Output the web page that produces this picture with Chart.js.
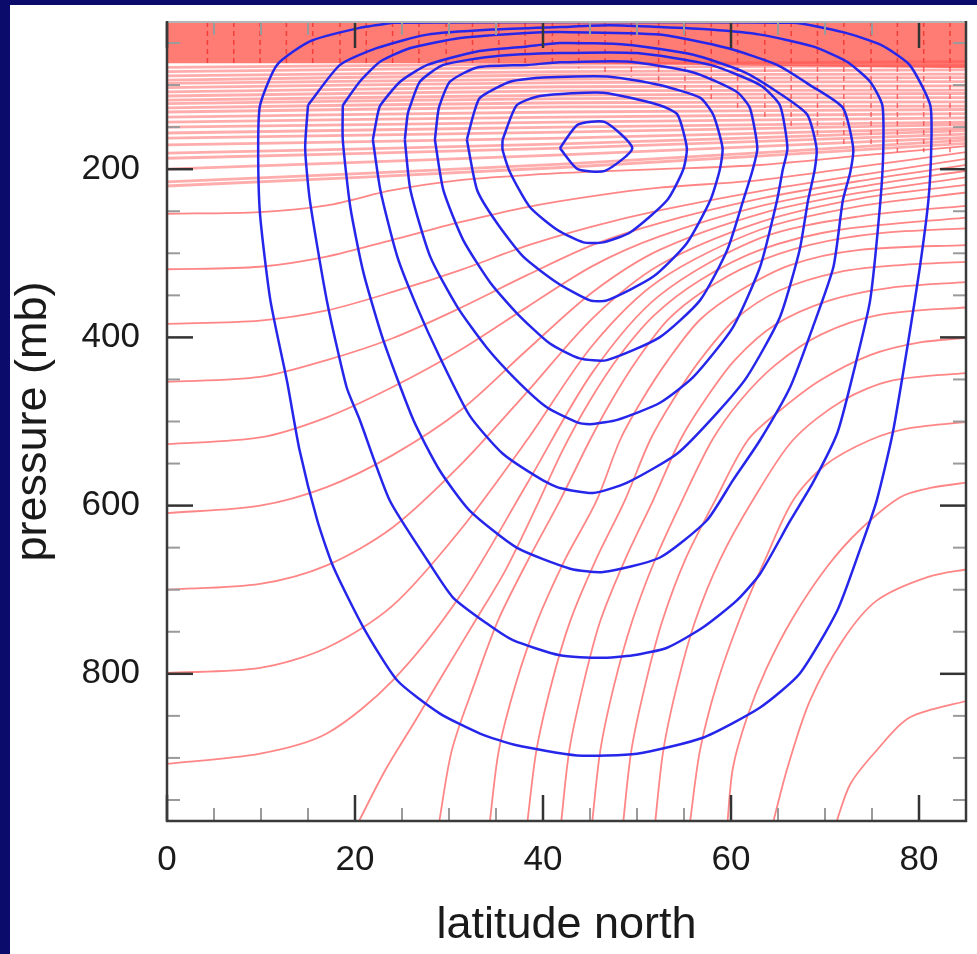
<!DOCTYPE html>
<html>
<head>
<meta charset="utf-8">
<script src="https://cdn.jsdelivr.net/npm/chart.js@4.4.1/dist/chart.umd.min.js"></script>
<style>
  html, body { margin: 0; padding: 0; background: #0b0b6b; }
  #wrap { width: 977px; height: 954px; }
</style>
</head>
<body>
<div id="wrap"><canvas id="chart" width="977" height="954"></canvas></div>
<script>
// axes
const latRange = [0, 85];
const presRange = [25, 975];
const xMajorTicks = [0, 20, 40, 60, 80];
const xMinorTicks = [5, 10, 15, 25, 30, 35, 45, 50, 55, 65, 70, 75];
const yMajorTicks = [200, 400, 600, 800];
const yMinorTicks = [50, 100, 150, 250, 300, 350, 450, 500, 550, 650, 700, 750, 850, 900, 950];

// zonal wind contours (blue), [latitude, pressure]
const windC1 = [[24.0,26],[20.5,32],[15.2,48],[11.7,76],[9.9,124],[9.7,175],[9.9,254],[11.0,356],[12.8,454],[14.1,534],[16.0,618],[17.7,673],[20.9,745],[24.5,808],[29.0,847],[33.3,871],[37.2,885],[43.6,897],[50.0,895],[57.0,876],[63.1,840],[67.3,800],[71.3,725],[73.7,653],[75.5,594],[77.2,514],[79.0,395],[80.1,316],[81.0,237],[81.3,175],[81.2,124],[79.0,76],[75.9,52],[71.9,37],[66.6,26],[45.0,25],[24.0,26]];
const windC2 = [[15.0,124],[18.4,76],[22.3,56],[27.7,40],[34.7,34],[41.8,31],[47.1,29],[52.4,31],[57.8,34],[63.1,40],[68.7,54],[72.3,72],[74.8,96],[76.1,124],[76.2,177],[75.9,237],[74.8,356],[73.0,443],[71.3,514],[68.7,573],[66.3,618],[63.1,681],[60.6,713],[57.0,745],[53.2,769],[49.6,778],[46.1,781],[41.8,778],[36.8,760],[34.0,740],[30.4,709],[27.7,665],[23.7,594],[20.5,498],[19.1,459],[17.0,356],[15.2,237],[14.7,175],[15.0,124]];
const windC3 = [[18.7,124],[20.5,96],[22.7,72],[25.9,56],[31.2,44],[38.3,38],[41.8,37],[52.4,40],[59.6,56],[64.9,76],[68.4,100],[71.9,127],[73.0,175],[72.7,203],[71.9,237],[70.9,316],[68.7,388],[66.3,459],[63.1,522],[60.2,570],[57.4,618],[52.4,662],[46.4,679],[42.9,675],[37.2,650],[32.2,606],[29.0,558],[26.2,498],[23.0,403],[20.9,323],[19.5,245],[18.7,165],[18.7,124]];
const windC4 = [[21.9,165],[22.4,135],[22.7,124],[24.8,96],[27.7,76],[33.0,60],[38.3,54],[41.8,50],[48.9,52],[56.0,64],[61.3,84],[64.9,108],[68.1,135],[69.1,175],[68.9,201],[68.2,237],[67.3,296],[65.2,376],[61.7,447],[58.5,490],[54.3,538],[48.9,573],[45.3,585],[41.8,579],[40.0,570],[35.7,538],[32.2,493],[29.0,423],[26.6,364],[24.5,304],[22.7,225],[21.9,165]];
const windC5 = [[25.3,165],[25.6,135],[25.9,124],[26.9,96],[29.4,76],[34.7,66],[41.8,62],[50.0,62],[57.8,76],[63.1,100],[65.2,124],[66.0,175],[65.5,201],[64.9,237],[63.1,316],[60.2,388],[56.0,447],[52.4,478],[47.9,498],[45.3,503],[43.9,502],[40.4,483],[37.2,451],[34.0,412],[30.9,364],[28.0,304],[25.9,225],[25.3,165]];
const windC6 = [[28.5,165],[28.8,135],[29.0,124],[30.1,96],[33.0,79],[38.3,76],[41.8,73],[48.9,72],[56.0,85],[60.6,108],[62.0,127],[62.8,175],[62.3,201],[61.3,237],[59.6,296],[56.7,356],[52.4,400],[46.8,427],[43.9,425],[40.7,407],[37.2,371],[34.4,335],[31.5,284],[29.4,225],[28.5,165]];
const windC7 = [[31.9,165],[32.6,135],[33.3,115],[36.5,96],[40.0,91],[47.1,90],[52.4,100],[56.7,115],[58.1,135],[59.1,175],[58.8,201],[57.8,237],[55.3,288],[51.7,328],[46.8,356],[45.0,356],[41.5,335],[37.9,304],[35.1,264],[33.0,225],[31.9,165]];
const windC8 = [[35.7,165],[37.2,124],[39.7,113],[46.4,109],[52.4,124],[54.3,135],[55.3,175],[54.9,201],[53.2,237],[49.3,275],[46.4,287],[44.3,287],[41.5,272],[38.6,245],[36.5,204],[35.7,177],[35.7,165]];
const windC9 = [[41.8,175],[43.7,147],[46.6,144],[49.5,175],[46.6,202],[43.7,200],[41.8,175]];

// isentropes rising from the ground (red), [latitude, pressure]
const isoR1 = [[71.1,980],[72.7,931],[75.5,891],[79.0,852],[85.5,831]];
const isoR2 = [[64.4,980],[66.0,912],[68.4,832],[71.9,760],[75.5,713],[80.9,685],[85.5,675]];
const isoR3 = [[59.6,980],[60.2,912],[61.7,852],[63.8,793],[66.6,733],[70.2,673],[73.7,629],[78.0,590],[81.2,579],[85.5,572]];
const isoR4 = [[55.6,980],[56.7,891],[58.5,812],[61.0,733],[63.6,665],[66.6,594],[70.0,552],[74.8,522],[79.0,508],[85.5,500]];
const isoR5 = [[51.9,980],[52.8,891],[54.3,812],[56.2,737],[58.8,665],[62.3,594],[66.6,522],[71.9,475],[77.2,451],[85.5,442]];
const isoR6 = [[48.5,980],[49.4,891],[50.9,812],[52.7,737],[55.1,665],[58.3,594],[61.8,522],[65.2,487],[69.5,451],[74.8,421],[80.1,406],[85.5,400]];
const isoR7 = [[45.2,980],[46.1,891],[47.6,812],[49.5,737],[51.9,665],[54.8,594],[58.0,522],[61.0,475],[64.7,433],[69.5,397],[75.9,373],[85.5,364]];
const isoR8 = [[41.9,980],[42.8,891],[44.3,812],[46.1,737],[48.7,665],[51.7,594],[54.6,522],[57.2,475],[60.4,427],[64.7,385],[70.5,356],[76.9,341],[85.5,334]];
const isoR9 = [[38.3,980],[39.3,891],[40.9,812],[42.9,737],[45.6,665],[48.7,594],[51.4,522],[53.8,475],[56.7,427],[60.4,379],[65.2,344],[71.6,322],[78.0,314],[85.5,310]];
const isoR10 = [[34.3,980],[35.3,891],[37.1,812],[39.4,737],[42.3,665],[45.7,594],[48.2,522],[50.5,475],[53.3,427],[56.7,379],[61.0,344],[66.3,314],[73.7,296],[85.5,290]];
const isoR11 = [[28.9,980],[30.3,891],[32.7,812],[35.2,737],[38.4,665],[41.8,594],[45.0,522],[47.3,475],[50.0,427],[53.3,379],[57.2,344],[62.0,314],[68.4,290],[75.9,276],[85.5,270]];
const isoR12 = [[20.2,980],[23.2,915],[26.4,856],[29.6,796],[32.8,737],[36.0,677],[39.1,606],[42.1,534],[45.0,475],[48.2,421],[51.9,373],[56.7,332],[63.1,296],[71.6,272],[85.5,257]];

// isentropes leaving the equator (red), pressures at aLats
const aLats = [0, 9.9, 17.0, 24.0, 31.2, 38.3, 45.3, 52.4, 63.1, 73.7, 85.5];
const isoA1 = [253, 251, 243, 225, 213, 207, 203, 200, 195, 184, 172];
const isoA2 = [319, 316, 304, 284, 263, 245, 232, 222, 213, 197, 179];
const isoA3 = [384, 380, 368, 346, 320, 291, 268, 249, 226, 207, 187];
const isoA4 = [453, 447, 427, 401, 365, 326, 290, 264, 235, 214, 194];
const isoA5 = [527, 519, 495, 459, 415, 364, 315, 280, 244, 221, 201];
const isoA6 = [609, 600, 578, 540, 487, 415, 346, 296, 253, 228, 209];
const isoA7 = [700, 693, 671, 626, 552, 465, 377, 314, 263, 235, 218];
const isoA8 = [799, 793, 769, 719, 629, 522, 409, 332, 272, 244, 227];
const isoA9 = [907, 895, 871, 808, 707, 574, 441, 350, 282, 256, 243];

// stratospheric isentropes, pressures at bLats
const bLats = [0, 42, 85.5];
const stratoLeftP = [220, 215, 200, 187, 181, 171, 163, 157, 150, 144, 138, 132, 127, 122, 118, 113, 108, 103, 98, 94, 89, 84, 79];
const stratoMidP = [198, 194, 183, 175, 170, 163, 156, 150, 144, 138, 132, 126, 121, 116, 112, 107, 102, 97, 93, 88, 84, 79, 75];
const stratoRightP = [169, 165, 162, 158, 154, 151, 147, 144, 139, 134, 129, 125, 120, 115, 110, 106, 101, 96, 91, 87, 82, 77, 72];
const solidEdgeP = [74, 74, 80];
const dashLats = [4.3, 7.1, 9.9, 12.7, 15.5, 18.4, 21.2, 24.0, 26.8, 29.7, 32.5, 35.3, 38.1, 41.0, 43.8, 46.6, 49.4, 52.3, 55.1, 57.9, 60.7, 63.6, 66.4, 69.2, 72.0, 74.9, 77.7, 80.5, 83.3];
const dashEndP = [75, 75, 75, 75, 75, 75, 75, 75, 75, 75, 75, 75, 75, 75, 80, 85, 90, 100, 110, 120, 130, 140, 150, 160, 170, 175, 180, 180, 180];

const FONT = "'Liberation Sans', Arial, Helvetica, sans-serif";
const BLUE = 'rgb(38, 38, 235)';
const RED = 'rgba(255, 60, 60, 0.62)';

function curve(points, color, width, order, tension) {
  return {
    data: points.map(p => ({x: p[0], y: p[1]})),
    showLine: true, fill: false, pointRadius: 0,
    borderColor: color, borderWidth: width,
    tension: tension, order: order
  };
}
function zipLine(lats, pres) {
  return lats.map((lat, i) => [lat, pres[i]]);
}

const datasets = [];
[windC1, windC2, windC3, windC4, windC5, windC6, windC7, windC8, windC9].forEach(c => {
  datasets.push(curve(c, BLUE, 2.5, 1, 0.2));
});
[isoR1, isoR2, isoR3, isoR4, isoR5, isoR6, isoR7, isoR8, isoR9, isoR10, isoR11, isoR12].forEach(c => {
  datasets.push(curve(c, RED, 1.8, 2, 0.3));
});
[isoA1, isoA2, isoA3, isoA4, isoA5, isoA6, isoA7, isoA8, isoA9].forEach(c => {
  datasets.push(curve(zipLine(aLats, c), RED, 1.8, 2, 0.3));
});
stratoLeftP.forEach((pl, i) => {
  datasets.push(curve([[bLats[0], pl], [bLats[1], stratoMidP[i]], [bLats[2], stratoRightP[i]]], 'rgba(255, 70, 70, 0.45)', 2.8, 2, 0.3));
});
dashLats.forEach((lat, i) => {
  const d = curve([[lat, presRange[0]], [lat, dashEndP[i]]], 'rgba(235, 20, 20, 0.6)', 1.5, 2, 0);
  d.borderDash = [5, 4];
  datasets.push(d);
});
const solid = curve(zipLine(bLats, solidEdgeP), 'rgba(0,0,0,0)', 0, 3, 0);
solid.fill = {value: presRange[0]};
solid.backgroundColor = 'rgba(255, 95, 85, 0.82)';
datasets.push(solid);

const backdrop = {
  id: 'backdrop',
  beforeDraw(chart) {
    const ctx = chart.ctx;
    ctx.save();
    ctx.fillStyle = '#0b0b6b';
    ctx.fillRect(0, 0, chart.width, chart.height);
    ctx.fillStyle = '#ffffff';
    ctx.fillRect(10, 5, chart.width - 10, chart.height - 5);
    ctx.restore();
  }
};

const frameTicks = {
  id: 'frameTicks',
  afterDatasetsDraw(chart) {
    const {ctx, chartArea: a, scales: {x, y}} = chart;
    ctx.save();
    function seg(x1, y1, x2, y2, color, w) {
      ctx.strokeStyle = color;
      ctx.lineWidth = w;
      ctx.beginPath();
      ctx.moveTo(x1, y1);
      ctx.lineTo(x2, y2);
      ctx.stroke();
    }
    xMinorTicks.forEach(v => {
      const px = x.getPixelForValue(v);
      seg(px, a.bottom, px, a.bottom - 13, '#9a9a9a', 2);
      seg(px, a.top, px, a.top + 13, '#9a9a9a', 2);
    });
    yMinorTicks.forEach(v => {
      const py = y.getPixelForValue(v);
      seg(a.left, py, a.left + 13, py, '#9a9a9a', 2);
      seg(a.right, py, a.right - 13, py, '#9a9a9a', 2);
    });
    xMajorTicks.forEach(v => {
      const px = x.getPixelForValue(v);
      seg(px, a.bottom, px, a.bottom - 26, '#333', 2.5);
      seg(px, a.top, px, a.top + 26, '#333', 2.5);
    });
    yMajorTicks.forEach(v => {
      const py = y.getPixelForValue(v);
      seg(a.left, py, a.left + 26, py, '#333', 2.5);
      seg(a.right, py, a.right - 26, py, '#333', 2.5);
    });
    seg(a.left, a.top, a.right, a.top, '#b5b5b5', 2);
    seg(a.left, a.top - 1, a.left, a.bottom + 1, '#3a3a3a', 2.5);
    seg(a.left - 1, a.bottom, a.right + 1, a.bottom, '#3a3a3a', 2.5);
    seg(a.right, a.top - 1, a.right, a.bottom + 1, '#3a3a3a', 2.5);
    ctx.restore();
  }
};

new Chart(document.getElementById('chart'), {
  type: 'scatter',
  data: {datasets: datasets},
  options: {
    responsive: false,
    animation: false,
    layout: {padding: {left: 7, right: 11, top: 22, bottom: 0}},
    plugins: {legend: {display: false}, tooltip: {enabled: false}},
    scales: {
      x: {
        type: 'linear', min: latRange[0], max: latRange[1],
        grid: {display: false, drawTicks: false}, border: {display: false},
        ticks: {font: {family: FONT, size: 35}, color: '#1a1a1a', padding: 18, maxRotation: 0},
        afterBuildTicks: s => { s.ticks = xMajorTicks.map(v => ({value: v})); },
        afterFit: s => { s.height = 133; s.paddingLeft = 0; s.paddingRight = 0; },
        title: {display: true, text: 'latitude north', font: {family: FONT, size: 45}, color: '#1a1a1a', padding: {top: 0, bottom: 1}}
      },
      y: {
        type: 'linear', min: presRange[0], max: presRange[1], reverse: true,
        grid: {display: false, drawTicks: false}, border: {display: false},
        ticks: {font: {family: FONT, size: 35}, color: '#1a1a1a', padding: 27},
        afterBuildTicks: s => { s.ticks = yMajorTicks.map(v => ({value: v})); },
        afterFit: s => { s.width = 160; s.paddingTop = 0; s.paddingBottom = 0; },
        title: {display: true, text: 'pressure (mb)', font: {family: FONT, size: 45}, color: '#1a1a1a', padding: {top: 0, bottom: 0}}
      }
    }
  },
  plugins: [backdrop, frameTicks]
});
</script>
</body>
</html>
